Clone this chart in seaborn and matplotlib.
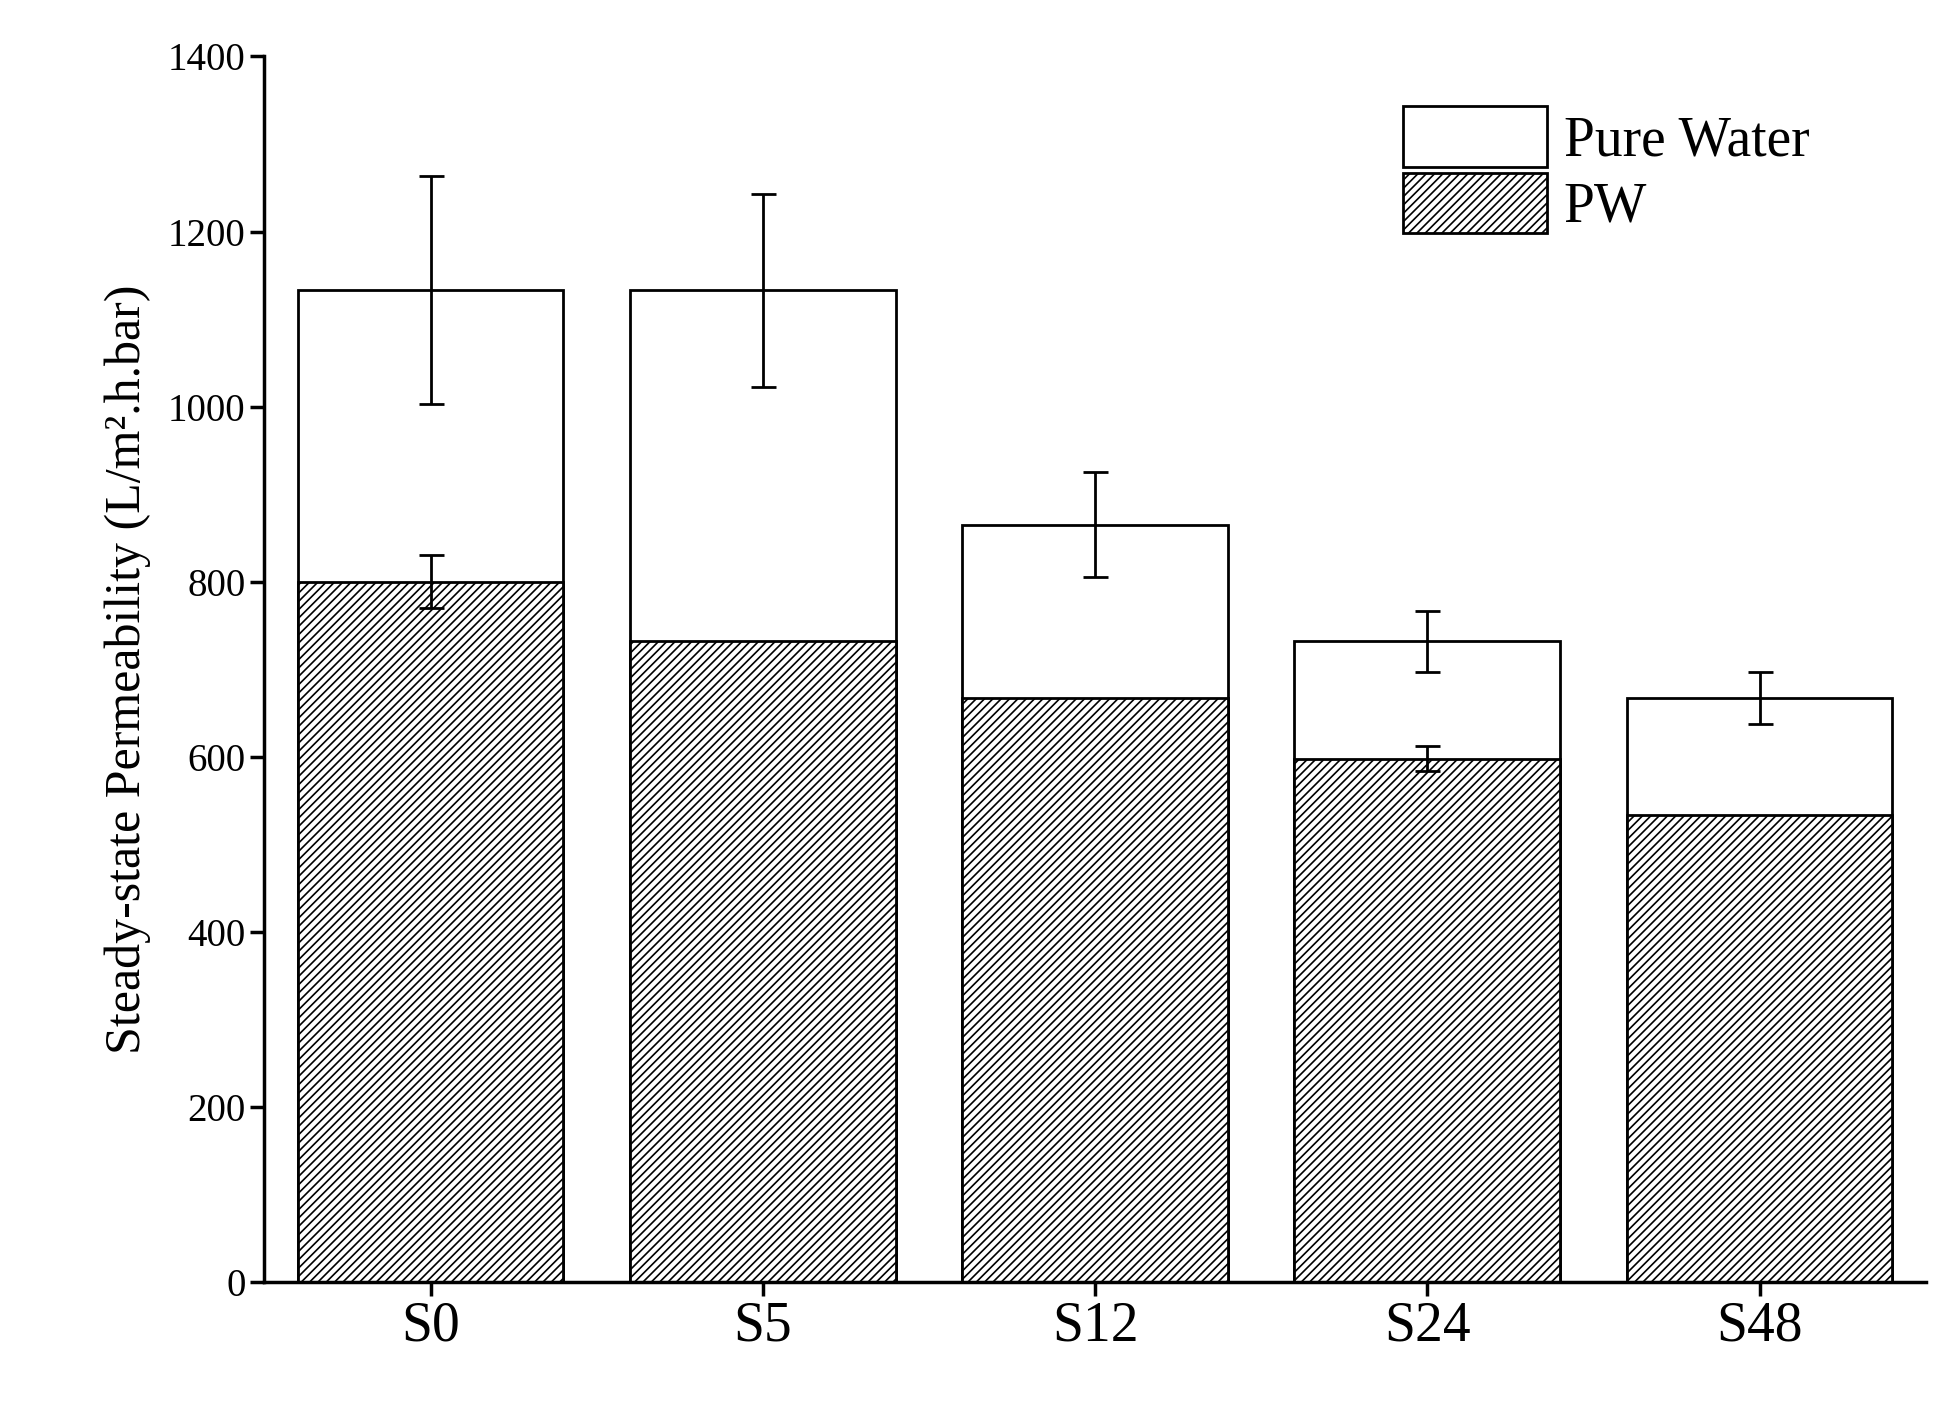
import matplotlib
matplotlib.use("Agg")
import matplotlib.pyplot as plt
import seaborn as sns
import pandas as pd
import numpy as np
from matplotlib.patches import Patch

categories = ["S0", "S5", "S12", "S24", "S48"]
pure_water = [1133, 1133, 865, 732, 667]
pure_water_err = [130, 110, 60, 35, 30]
pw = [800, 732, 667, 598, 533]
pw_err = [30, 0, 0, 14, 0]

sns.set_style("ticks")
plt.rcParams['font.family'] = ['Liberation Serif', 'DejaVu Serif']
plt.rcParams['hatch.linewidth'] = 1.2
for k in ['text.color', 'axes.labelcolor', 'xtick.color', 'ytick.color', 'axes.edgecolor']:
    plt.rcParams[k] = 'black'

fig = plt.figure(figsize=(19.59, 14.12), dpi=100)
ax = fig.add_axes([0.135, 0.092, 0.848, 0.868])

df1 = pd.DataFrame({"cat": categories, "val": pure_water})
df2 = pd.DataFrame({"cat": categories, "val": pw})
sns.barplot(data=df1, x="cat", y="val", color="white", edgecolor="black",
            linewidth=2, width=0.8, errorbar=None, ax=ax, saturation=1)
sns.barplot(data=df2, x="cat", y="val", color="white", edgecolor="black",
            linewidth=2, width=0.8, errorbar=None, ax=ax, saturation=1, hatch="////")
x = np.arange(len(categories))
ax.errorbar(x, pure_water, yerr=pure_water_err, fmt="none", ecolor="black", elinewidth=2, capsize=9, capthick=2)
m = np.array(pw_err) > 0
ax.errorbar(x[m], np.array(pw)[m], yerr=np.array(pw_err)[m], fmt="none", ecolor="black", elinewidth=2, capsize=9, capthick=2)

ax.set_ylim(0, 1400)
ax.set_xlim(-0.5, 4.5)
ax.set_yticks(range(0, 1401, 200))
ax.set_xlabel("")
ax.set_ylabel("Steady-state Permeability (L/m\u00b2.h.bar)", fontsize=36, labelpad=12)
ax.tick_params(axis="y", labelsize=28, width=2.5, length=10, direction="out")
ax.tick_params(axis="x", labelsize=40, width=2.5, length=10, direction="out")
for s in ["top", "right"]:
    ax.spines[s].set_visible(False)
for s in ["left", "bottom"]:
    ax.spines[s].set_linewidth(2.5)

handles = [Patch(facecolor="white", edgecolor="black", linewidth=2),
           Patch(facecolor="white", edgecolor="black", linewidth=2, hatch="////")]
ax.legend(handles, ["Pure Water", "PW"], loc="upper right", bbox_to_anchor=(0.96, 1.0),
          fontsize=40, frameon=False, handlelength=2.6, handleheight=1.3, handletextpad=0.3, labelspacing=0.1)

fig.savefig("out.png", dpi=100)
